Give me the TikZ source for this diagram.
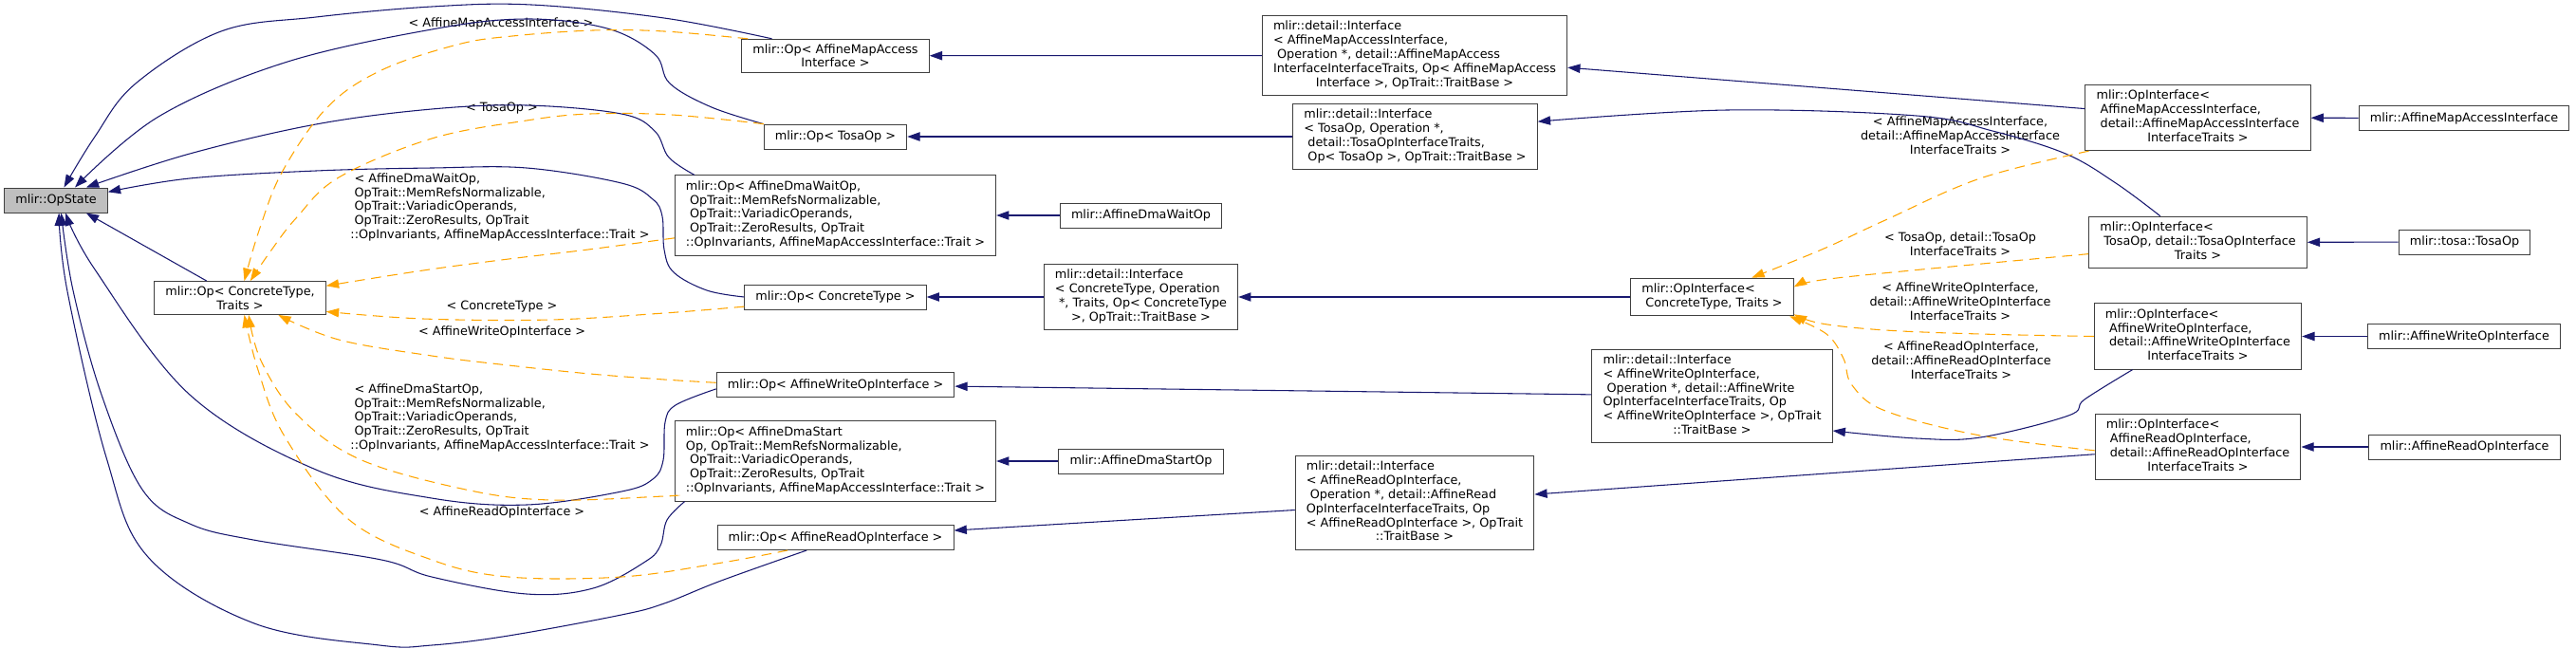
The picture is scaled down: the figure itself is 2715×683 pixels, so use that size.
\documentclass[tikz,border=0pt]{standalone}
\usepackage{fontspec}
\setmainfont{DejaVu Sans}
\usetikzlibrary{arrows.meta}
\definecolor{edgeblue}{HTML}{191970}
\definecolor{tmplorange}{HTML}{FFA500}
\definecolor{boxline}{HTML}{404040}
\definecolor{rootfill}{HTML}{BFBFBF}
\newcommand{\dgfont}{\fontsize{9.6pt}{11.1pt}\selectfont}
\newcommand{\ml}[1]{\begin{tabular}{@{}l@{}}#1\end{tabular}}
\newcommand{\mc}[1]{\multicolumn{1}{@{}c@{}}{#1}}
\begin{document}
\begin{tikzpicture}[x=0.75pt,y=-0.75pt,every node/.style={font=\dgfont},cls/.style={rectangle,draw=boxline,fill=white,line width=0.75pt,inner xsep=8.7pt,inner ysep=3.8pt,minimum height=19.5pt,align=center},lbl/.style={inner sep=0pt,align=center},inh/.style={-{Triangle[length=10pt,width=7pt]},edgeblue,line width=0.8pt},tmpl/.style={-{Triangle[length=10pt,width=7pt]},tmplorange,line width=0.8pt,dash pattern=on 8pt off 5pt}]
\useasboundingbox (0,0) rectangle (2715,683);
\node[cls,fill=rootfill] (opstate) at (59,211) {mlir::OpState};
\node[cls] (opct) at (253,314) {mlir::Op< ConcreteType,\\ Traits >};
\node[cls] (opmap) at (880.5,58.75) {mlir::Op< AffineMapAccess\\ Interface >};
\node[cls] (optosa) at (880.5,144) {mlir::Op< TosaOp >};
\node[cls] (opwait) at (880.5,227) {\ml{mlir::Op< AffineDmaWaitOp,\\ \ OpTrait::MemRefsNormalizable,\\ \ OpTrait::VariadicOperands,\\ \ OpTrait::ZeroResults, OpTrait\\ ::OpInvariants, AffineMapAccessInterface::Trait >}};
\node[cls] (opcon) at (880.5,313) {mlir::Op< ConcreteType >};
\node[cls] (opwrite) at (880.5,405.5) {mlir::Op< AffineWriteOpInterface >};
\node[cls] (opstart) at (880.5,486) {\ml{mlir::Op< AffineDmaStart\\ Op, OpTrait::MemRefsNormalizable,\\ \ OpTrait::VariadicOperands,\\ \ OpTrait::ZeroResults, OpTrait\\ ::OpInvariants, AffineMapAccessInterface::Trait >}};
\node[cls] (opread) at (880.5,566.5) {mlir::Op< AffineReadOpInterface >};
\node[cls] (dmawait) at (1202.5,227) {mlir::AffineDmaWaitOp};
\node[cls] (ifct) at (1202.5,313) {\ml{mlir::detail::Interface\\ < ConcreteType, Operation\\ \ *, Traits, Op< ConcreteType\\ \mc{>, OpTrait::TraitBase >}}};
\node[cls] (dmastart) at (1202.5,486) {mlir::AffineDmaStartOp};
\node[cls] (ifmap) at (1491,58.5) {\ml{mlir::detail::Interface\\ < AffineMapAccessInterface,\\ \ Operation *, detail::AffineMapAccess\\ InterfaceInterfaceTraits, Op< AffineMapAccess\\ \mc{Interface >, OpTrait::TraitBase >}}};
\node[cls] (iftosa) at (1491.5,144) {\ml{mlir::detail::Interface\\ < TosaOp, Operation *,\\ \ detail::TosaOpInterfaceTraits,\\ \ Op< TosaOp >, OpTrait::TraitBase >}};
\node[cls] (ifread) at (1491,530) {\ml{mlir::detail::Interface\\ < AffineReadOpInterface,\\ \ Operation *, detail::AffineRead\\ OpInterfaceInterfaceTraits, Op\\ < AffineReadOpInterface >, OpTrait\\ \mc{::TraitBase >}}};
\node[cls] (opifct) at (1804.5,313) {\ml{mlir::OpInterface<\\ \ ConcreteType, Traits >}};
\node[cls] (ifwrite) at (1804.5,417.5) {\ml{mlir::detail::Interface\\ < AffineWriteOpInterface,\\ \ Operation *, detail::AffineWrite\\ OpInterfaceInterfaceTraits, Op\\ < AffineWriteOpInterface >, OpTrait\\ \mc{::TraitBase >}}};
\node[cls] (opimap) at (2316.5,124) {\ml{mlir::OpInterface<\\ \ AffineMapAccessInterface,\\ \ detail::AffineMapAccessInterface\\ \mc{InterfaceTraits >}}};
\node[cls] (opitosa) at (2316.5,255.5) {\ml{mlir::OpInterface<\\ \ TosaOp, detail::TosaOpInterface\\ \mc{Traits >}}};
\node[cls] (opiwrite) at (2316.5,354.5) {\ml{mlir::OpInterface<\\ \ AffineWriteOpInterface,\\ \ detail::AffineWriteOpInterface\\ \mc{InterfaceTraits >}}};
\node[cls] (opiread) at (2316.5,471) {\ml{mlir::OpInterface<\\ \ AffineReadOpInterface,\\ \ detail::AffineReadOpInterface\\ \mc{InterfaceTraits >}}};
\node[cls] (amai) at (2597,124.5) {mlir::AffineMapAccessInterface};
\node[cls] (tosaop) at (2597.5,255) {mlir::tosa::TosaOp};
\node[cls] (awoi) at (2597,354.5) {mlir::AffineWriteOpInterface};
\node[cls] (aroi) at (2597.5,471) {mlir::AffineReadOpInterface};
\node[lbl] (lmap) at (528,24.5) {< AffineMapAccessInterface >};
\node[lbl] (ltosa) at (529,114) {< TosaOp >};
\node[lbl] (lwait) at (527,219) {\ml{\ < AffineDmaWaitOp,\\ \ OpTrait::MemRefsNormalizable,\\ \ OpTrait::VariadicOperands,\\ \ OpTrait::ZeroResults, OpTrait\\ ::OpInvariants, AffineMapAccessInterface::Trait >}};
\node[lbl] (lcon) at (529,323) {< ConcreteType >};
\node[lbl] (lwrite) at (529,350) {< AffineWriteOpInterface >};
\node[lbl] (lstart) at (527,441) {\ml{\ < AffineDmaStartOp,\\ \ OpTrait::MemRefsNormalizable,\\ \ OpTrait::VariadicOperands,\\ \ OpTrait::ZeroResults, OpTrait\\ ::OpInvariants, AffineMapAccessInterface::Trait >}};
\node[lbl] (lread) at (529,540) {< AffineReadOpInterface >};
\node[lbl] (limap) at (2066,143) {< AffineMapAccessInterface,\\ detail::AffineMapAccessInterface\\ InterfaceTraits >};
\node[lbl] (litosa) at (2066,257) {< TosaOp, detail::TosaOp\\ InterfaceTraits >};
\node[lbl] (liwrite) at (2066,318) {< AffineWriteOpInterface,\\ detail::AffineWriteOpInterface\\ InterfaceTraits >};
\node[lbl] (liread) at (2067,380) {< AffineReadOpInterface,\\ detail::AffineReadOpInterface\\ InterfaceTraits >};
\draw[inh] plot[smooth,tension=0.6] coordinates {(opmap.165) (700,19) (560,5) (455,7) (333,18) (233,33) (143,88) (100,144) (opstate.58)};
\draw[inh] plot[smooth,tension=0.6] coordinates {(optosa.170) (750,113) (706,88) (690,57) (640,30) (555,20) (455,31) (300,66) (167,123) (opstate.34)};
\draw[inh] plot[smooth,tension=0.6] coordinates {(opwait.164) (705,166) (690,138) (655,120) (555,111) (455,115) (333,131) (200,162) (opstate.23)};
\draw[inh] plot[smooth,tension=0.6] coordinates {(opcon.180) (745,306) (710,287) (700,263) (698,228) (688,210) (655,193) (555,177) (455,177) (333,180) (200,188) (opstate.9)};
\draw[inh] (opct.153) -- (opstate.-23);
\draw[inh] plot[smooth,tension=0.6] coordinates {(opwrite.182) (712,427) (701,445) (699,485) (688,505) (655,518) (555,532) (455,525) (333,495) (200,416) (100,284) (opstate.-53)};
\draw[inh] plot[smooth,tension=0.6] coordinates {(opstart.195) (703,548) (696,575) (680,592) (625,620) (555,626) (455,608) (402,590) (267,569) (200,552) (150,516) (107,416) (77,306) (opstate.-68)};
\draw[inh] plot[smooth,tension=0.6] coordinates {(opread.204) (760,612) (700,636) (655,648) (536,670) (455,680) (400,680) (268,657) (156,587) (112,482) (71,307) (opstate.-77)};
\draw[tmpl] plot[smooth,tension=0.6] coordinates {(opmap.169) (700,33) (625,32) (540,38) (482,47) (402,74) (345,113) (298,180) (274,240) (opct.76)};
\draw[tmpl] plot[smooth,tension=0.6] coordinates {(optosa.170) (708,121) (622,120) (555,127) (455,146) (357,187) (312,230) (285,265) (opct.59)};
\draw[tmpl] plot[smooth,tension=0.6] coordinates {(opwait.188) (620,263) (536,273) (446,285) (opct.8)};
\draw[tmpl] plot[smooth,tension=0.6] coordinates {(opcon.186) (700,330) (580,337) (446,336) (opct.-9)};
\draw[tmpl] plot[smooth,tension=0.6] coordinates {(opwrite.179) (700,400) (622,394) (536,385) (455,375) (357,358) (opct.-24)};
\draw[tmpl] plot[smooth,tension=0.6] coordinates {(opstart.192) (700,523) (580,527) (491,516) (379,484) (312,436) (275,380) (opct.-63)};
\draw[tmpl] plot[smooth,tension=0.6] coordinates {(opread.195) (755,594) (655,608) (536,608) (455,590) (367,547) (300,460) (272,390) (opct.-76)};
\draw[inh] (ifmap) -- (opmap);
\draw[inh] (iftosa) -- (optosa);
\draw[inh] (dmawait) -- (opwait);
\draw[inh] (ifct) -- (opcon);
\draw[inh] (ifwrite) -- (opwrite);
\draw[inh] (dmastart) -- (opstart);
\draw[inh] (ifread) -- (opread);
\draw[inh] (opimap) -- (ifmap);
\draw[inh] plot[smooth,tension=0.6] coordinates {(opitosa.145) (2230,193) (2177,162) (2100,138) (2020,122) (1820,116) (iftosa.7)};
\draw[inh] (opifct) -- (ifct);
\draw[inh] plot[smooth,tension=0.6] coordinates {(opiwrite.207) (2197,421) (2180,438) (2087,461) (2020,462) (ifwrite.-16)};
\draw[inh] (opiread) -- (ifread);
\draw[tmpl] plot[smooth,tension=0.6] coordinates {(opimap.197) (2087,188) (1987,232) (1920,263) (opifct.26)};
\draw[tmpl] plot[smooth,tension=0.6] coordinates {(opitosa.186) (2020,284.5) (1920,295) (opifct.7)};
\draw[tmpl] plot[smooth,tension=0.6] coordinates {(opiwrite.180) (2087,352) (1987,348) (1920,341) (opifct.-12)};
\draw[tmpl] plot[smooth,tension=0.6] coordinates {(opiread.182) (2087,459) (1987,433) (1952,406) (1943,378) (1925,352) (opifct.-14)};
\draw[inh] (amai) -- (opimap);
\draw[inh] (tosaop) -- (opitosa);
\draw[inh] (awoi) -- (opiwrite);
\draw[inh] (aroi) -- (opiread);
\end{tikzpicture}
\end{document}
